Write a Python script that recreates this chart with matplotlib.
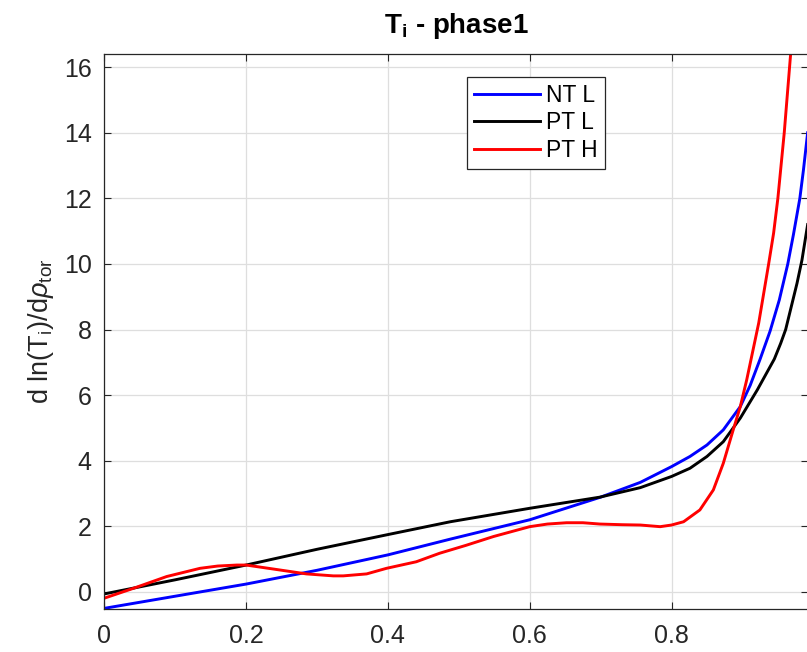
import matplotlib

matplotlib.use("Agg")
import matplotlib.pyplot as plt

# values
nt_l_x = [0.0, 0.1, 0.2, 0.3, 0.4, 0.488, 0.6, 0.7, 0.756, 0.8, 0.826, 0.85, 0.873,
          0.897, 0.911, 0.925, 0.939, 0.952, 0.964, 0.972, 0.981, 0.986, 0.992]
nt_l_y = [-0.5, -0.13, 0.24, 0.66, 1.13, 1.61, 2.2, 2.89, 3.34, 3.82, 4.13, 4.48, 4.94,
          5.65, 6.3, 7.1, 7.95, 8.9, 10.0, 10.9, 12.0, 12.85, 14.0]

pt_l_x = [0.0, 0.1, 0.2, 0.3, 0.398, 0.488, 0.6, 0.699, 0.756, 0.8, 0.826, 0.85, 0.873,
          0.897, 0.921, 0.945, 0.954, 0.961, 0.977, 0.984, 0.992]
pt_l_y = [-0.06, 0.37, 0.82, 1.3, 1.74, 2.14, 2.55, 2.89, 3.18, 3.52, 3.77, 4.13, 4.58,
          5.3, 6.16, 7.1, 7.58, 8.0, 9.41, 10.12, 11.2]

pt_h_x = [0.0, 0.041, 0.088, 0.135, 0.16, 0.187, 0.2, 0.238, 0.26, 0.285, 0.323, 0.337,
          0.37, 0.398, 0.44, 0.473, 0.51, 0.549, 0.6, 0.625, 0.652, 0.675, 0.699, 0.73,
          0.756, 0.784, 0.8, 0.817, 0.84, 0.859, 0.873, 0.887, 0.897, 0.906, 0.915,
          0.923, 0.93, 0.937, 0.944, 0.95, 0.959, 0.968, 0.976]
pt_h_y = [-0.19, 0.11, 0.47, 0.72, 0.79, 0.82, 0.82, 0.7, 0.63, 0.55, 0.49, 0.49,
          0.55, 0.72, 0.92, 1.18, 1.42, 1.69, 1.99, 2.07, 2.11, 2.11, 2.07, 2.05,
          2.04, 1.99, 2.04, 2.14, 2.5, 3.11, 3.92, 4.94, 5.65, 6.46, 7.38,
          8.2, 9.1, 10.0, 10.94, 12.0, 14.0, 16.4, 19.0]

x_ticks = [0, 0.2, 0.4, 0.6, 0.8]
x_tick_labels = ["0", "0.2", "0.4", "0.6", "0.8"]
y_ticks = [0, 2, 4, 6, 8, 10, 12, 14, 16]


def main() -> None:
    plt.rcParams["font.family"] = ["Liberation Sans", "DejaVu Sans"]
    plt.rcParams["mathtext.fontset"] = "custom"
    plt.rcParams["mathtext.rm"] = "Liberation Sans"
    plt.rcParams["mathtext.it"] = "Liberation Sans:italic"
    plt.rcParams["mathtext.bf"] = "Liberation Sans:bold"

    text_color = "#262626"
    fig = plt.figure(figsize=(8.07, 6.52), dpi=100)
    ax = fig.add_axes([104.3 / 807, 43 / 652, (808 - 104.3) / 807, 555 / 652])

    ax.plot(nt_l_x, nt_l_y, color="#0000ff", linewidth=2.1, label="NT L")
    ax.plot(pt_l_x, pt_l_y, color="#000000", linewidth=2.1, label="PT L")
    ax.plot(pt_h_x, pt_h_y, color="#ff0000", linewidth=2.1, label="PT H")

    ax.set_xlim(0, 0.9925)
    ax.set_ylim(-0.52, 16.4)
    ax.set_xticks(x_ticks)
    ax.set_xticklabels(x_tick_labels)
    ax.set_yticks(y_ticks)
    ax.grid(True, color="#dedede", linewidth=0.9)
    ax.set_axisbelow(True)
    ax.tick_params(direction="in", length=5, width=0.8, colors=text_color,
                   labelsize=18, top=True, right=True)
    ax.tick_params(axis="x", pad=11)
    ax.tick_params(axis="y", pad=9)
    for spine in ax.spines.values():
        spine.set_color(text_color)
        spine.set_linewidth(0.9)

    ax.set_title(r"T$_{\mathbf{i}}$ - phase1", fontsize=20, fontweight="bold",
                 color="#000000", pad=15)
    ax.set_ylabel(r"d ln(T$_{\rm i}$)/d$\rho_{\rm tor}$", fontsize=19.5,
                  color=text_color, labelpad=6)

    legend = ax.legend(loc="upper left", bbox_to_anchor=(0.516, 0.959), fontsize=16.5,
                       frameon=True, fancybox=False, framealpha=1, edgecolor=text_color,
                       handlelength=2.85, handletextpad=0.3, borderpad=0.3,
                       labelspacing=0.2, borderaxespad=0)
    legend.get_frame().set_linewidth(0.9)
    for text in legend.get_texts():
        text.set_color("#000000")

    fig.savefig("out.png", dpi=100)
    plt.close(fig)


if __name__ == "__main__":
    main()
